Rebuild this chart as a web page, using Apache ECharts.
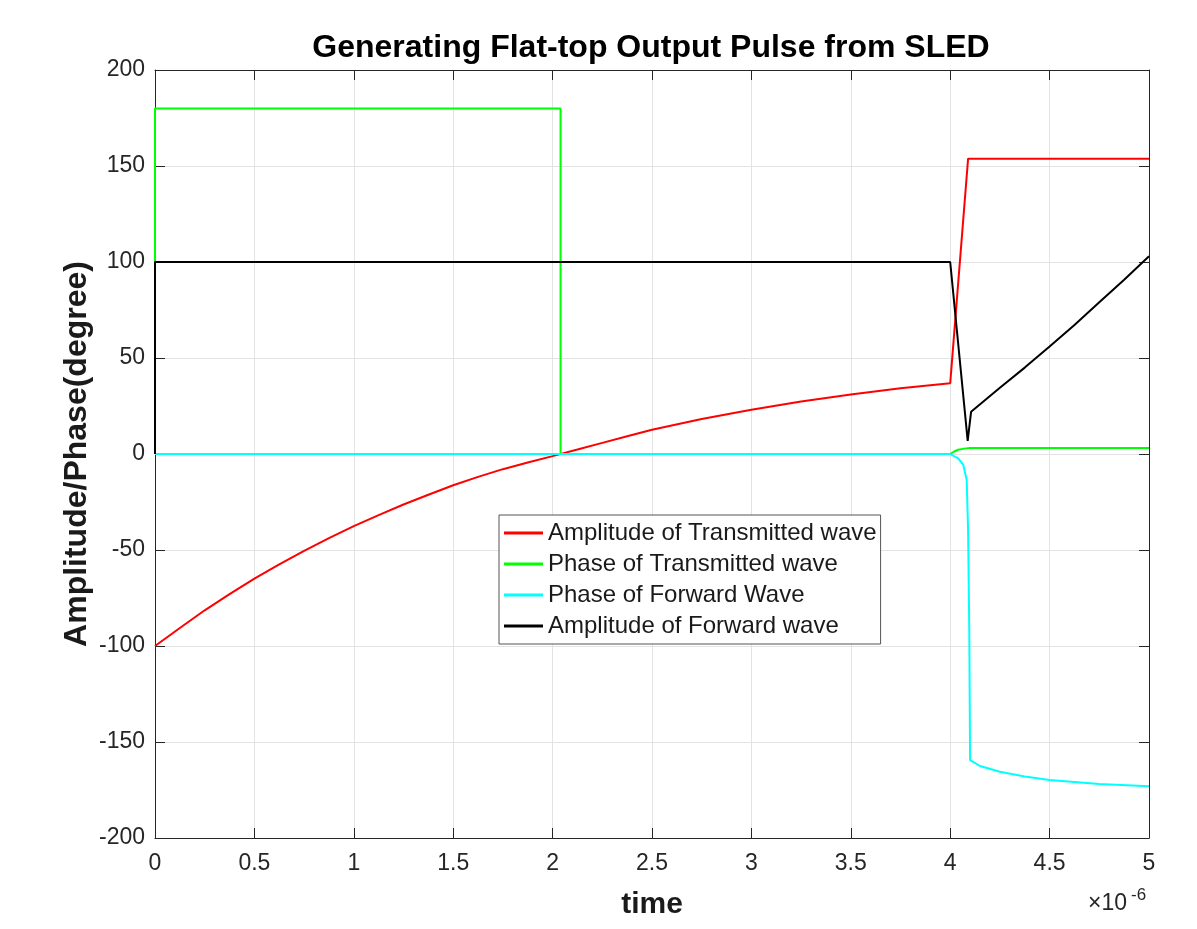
<!DOCTYPE html>
<html>
<head>
<meta charset="utf-8">
<title>Generating Flat-top Output Pulse from SLED</title>
<script src="https://cdn.jsdelivr.net/npm/echarts@6/dist/echarts.min.js"></script>
<style>
  html, body { margin: 0; padding: 0; background: #fff; }
  #chart { width: 1197px; height: 929px; }
</style>
</head>
<body>
<div id="chart"></div>
<script>
// time axis is in units of 1e-6 s
const xTicks = [0, 0.5, 1, 1.5, 2, 2.5, 3, 3.5, 4, 4.5, 5]
const yTicks = [-200, -150, -100, -50, 0, 50, 100, 150, 200]

// Amplitude of Transmitted wave
const ampTransT = [0, 0.125, 0.25, 0.375, 0.5, 0.625, 0.75, 0.875, 1, 1.125, 1.25, 1.375, 1.5, 1.625, 1.75, 1.875, 2, 2.125, 2.25, 2.375, 2.5, 2.75, 3, 3.25, 3.5, 3.75, 4, 4.09, 5]
const ampTransV = [-100, -90.6, -81.4, -73.0, -64.9, -57.5, -50.4, -43.8, -37.6, -31.8, -26.3, -21.2, -16.3, -11.9, -7.9, -4.4, -1.1, 2.3, 5.8, 9.2, 12.6, 18.2, 23.0, 27.3, 31.0, 34.2, 36.8, 153.8, 153.8]

// Phase of Transmitted wave
const phaseTransT = [0, 0, 2.04, 2.04, 4, 4.02, 4.04, 4.07, 4.1, 5]
const phaseTransV = [0, 180, 180, 0, 0, 1.3, 2.2, 2.8, 3.1, 3.1]

// Phase of Forward Wave
const phaseFwdT = [0, 4, 4.04, 4.066, 4.083, 4.09, 4.096, 4.1, 4.15, 4.25, 4.375, 4.5, 4.75, 5]
const phaseFwdV = [0, 0, -2.3, -5.7, -13.5, -40, -92, -159.4, -162.5, -165.5, -168.0, -169.8, -171.9, -173]

// Amplitude of Forward wave
const ampFwdT = [0, 0, 4, 4.088, 4.105, 4.25, 4.375, 4.5, 4.625, 4.75, 4.875, 5]
const ampFwdV = [0, 100, 100, 6.8, 22, 34.5, 45, 56, 67.2, 79, 90.8, 103]

const zip = (t, v) => t.map((x, i) => [x, v[i]])

const chart = echarts.init(document.getElementById('chart'))

const font = '"Liberation Sans", Arial, Helvetica, sans-serif'
const axisGray = '#262626'

const tickAxis = {
  axisLine: { show: true, onZero: false, lineStyle: { color: axisGray, width: 1 } },
  axisTick: { show: true, inside: true, length: 10, lineStyle: { color: axisGray } }
}

chart.setOption({
  animation: false,
  backgroundColor: '#fff',
  title: {
    text: 'Generating Flat-top Output Pulse from SLED',
    left: 646,
    textAlign: 'center',
    top: 27,
    textStyle: { fontFamily: font, fontSize: 32, fontWeight: 'bold', color: '#000' }
  },
  grid: { left: 155, top: 70, width: 994, height: 768, containLabel: false, outerBoundsMode: 'none' },
  legend: {
    orient: 'vertical',
    left: 499,
    top: 515,
    backgroundColor: '#fff',
    borderColor: '#555',
    borderWidth: 1,
    borderRadius: 0,
    padding: [6, 4, 6, 5],
    itemGap: 7,
    itemWidth: 39,
    itemHeight: 3,
    icon: 'rect',
    textStyle: { fontFamily: font, fontSize: 24, lineHeight: 24, color: '#1a1a1a' },
    data: ['Amplitude of Transmitted wave', 'Phase of Transmitted wave', 'Phase of Forward Wave', 'Amplitude of Forward wave']
  },
  xAxis: [
    Object.assign({
      type: 'value',
      min: xTicks[0],
      max: xTicks[xTicks.length - 1],
      interval: 0.5,
      name: 'time',
      nameLocation: 'middle',
      nameGap: 52,
      nameMoveOverlap: false,
      nameTextStyle: { fontFamily: font, fontSize: 30, fontWeight: 'bold', color: '#1a1a1a' },
      axisLabel: { fontFamily: font, fontSize: 23, color: axisGray, margin: 14 },
      splitLine: { show: true, lineStyle: { color: '#e3e3e3', width: 1 } }
    }, tickAxis),
    Object.assign({
      type: 'value',
      position: 'top',
      min: xTicks[0],
      max: xTicks[xTicks.length - 1],
      interval: 0.5,
      axisLabel: { show: false },
      splitLine: { show: false }
    }, tickAxis)
  ],
  yAxis: [
    Object.assign({
      type: 'value',
      min: yTicks[0],
      max: yTicks[yTicks.length - 1],
      interval: 50,
      name: 'Amplitude/Phase(degree)',
      nameLocation: 'middle',
      nameGap: 62,
      nameMoveOverlap: false,
      nameTextStyle: { fontFamily: font, fontSize: 32, fontWeight: 'bold', color: '#1a1a1a' },
      axisLabel: { fontFamily: font, fontSize: 23, color: axisGray, margin: 10 },
      splitLine: { show: true, lineStyle: { color: '#e3e3e3', width: 1 } }
    }, tickAxis),
    Object.assign({
      type: 'value',
      position: 'right',
      min: yTicks[0],
      max: yTicks[yTicks.length - 1],
      interval: 50,
      axisLabel: { show: false },
      splitLine: { show: false }
    }, tickAxis)
  ],
  graphic: [
    {
      type: 'text',
      style: {
        text: '×10',
        x: 1088,
        y: 904,
        verticalAlign: 'middle',
        font: '23px "Liberation Sans", Arial, sans-serif',
        fill: axisGray
      }
    },
    {
      type: 'text',
      style: {
        text: '-6',
        x: 1131,
        y: 895,
        verticalAlign: 'middle',
        font: '17px "Liberation Sans", Arial, sans-serif',
        fill: axisGray
      }
    }
  ],
  series: [
    {
      name: 'Amplitude of Transmitted wave',
      type: 'line',
      data: zip(ampTransT, ampTransV),
      showSymbol: false,
      symbol: 'none',
      lineStyle: { color: '#ff0000', width: 2 },
      itemStyle: { color: '#ff0000' }
    },
    {
      name: 'Phase of Transmitted wave',
      type: 'line',
      data: zip(phaseTransT, phaseTransV),
      showSymbol: false,
      symbol: 'none',
      lineStyle: { color: '#00ff00', width: 2 },
      itemStyle: { color: '#00ff00' }
    },
    {
      name: 'Phase of Forward Wave',
      type: 'line',
      data: zip(phaseFwdT, phaseFwdV),
      showSymbol: false,
      symbol: 'none',
      lineStyle: { color: '#00ffff', width: 2 },
      itemStyle: { color: '#00ffff' }
    },
    {
      name: 'Amplitude of Forward wave',
      type: 'line',
      data: zip(ampFwdT, ampFwdV),
      showSymbol: false,
      symbol: 'none',
      lineStyle: { color: '#000000', width: 2 },
      itemStyle: { color: '#000000' }
    }
  ]
})
</script>
</body>
</html>
